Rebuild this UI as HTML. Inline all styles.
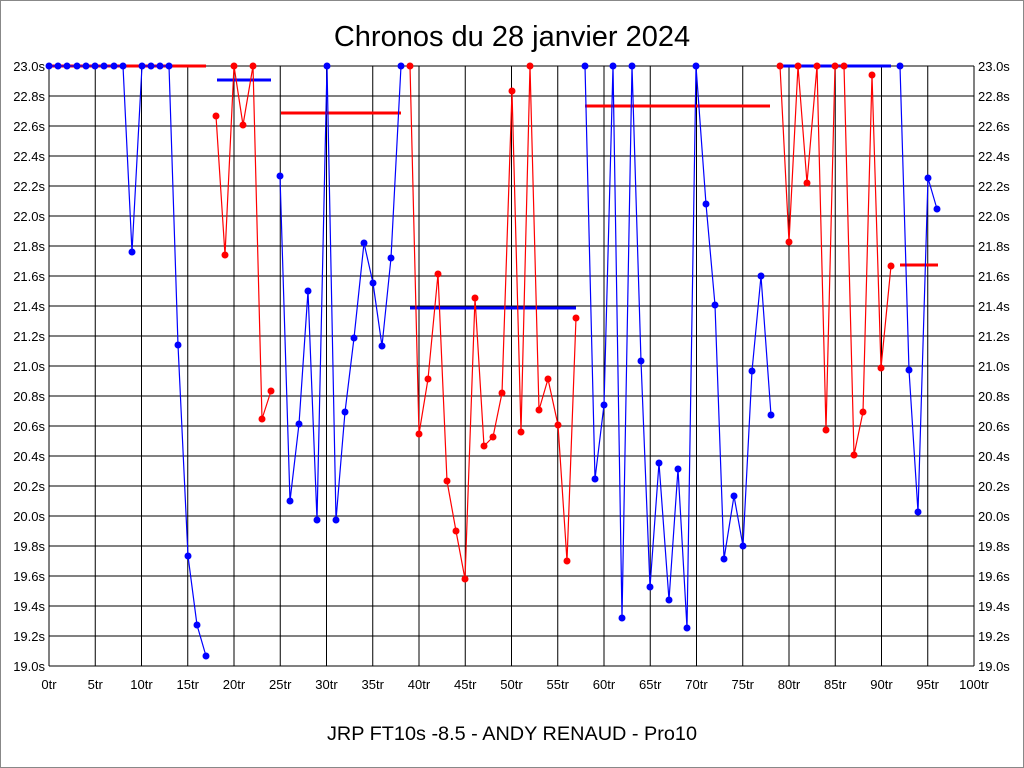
<!DOCTYPE html>
<html><head><meta charset="utf-8"><style>
body{margin:0;background:#fff}
svg{display:block}
text{font-family:"Liberation Sans",sans-serif}
</style></head><body>
<svg width="1024" height="768" viewBox="0 0 1024 768">
<rect x="0.5" y="0.5" width="1023" height="767" fill="#fff" stroke="#888"/>
<text x="512" y="46" font-size="29" text-anchor="middle">Chronos du 28 janvier 2024</text>
<text x="512" y="740" font-size="19" text-anchor="middle" textLength="370" lengthAdjust="spacingAndGlyphs">JRP FT10s -8.5 - ANDY RENAUD - Pro10</text>
<g stroke="#000" stroke-width="1">
<line x1="49" y1="66" x2="974" y2="66"/><line x1="49" y1="96" x2="974" y2="96"/><line x1="49" y1="126" x2="974" y2="126"/><line x1="49" y1="156" x2="974" y2="156"/><line x1="49" y1="186" x2="974" y2="186"/><line x1="49" y1="216" x2="974" y2="216"/><line x1="49" y1="246" x2="974" y2="246"/><line x1="49" y1="276" x2="974" y2="276"/><line x1="49" y1="306" x2="974" y2="306"/><line x1="49" y1="336" x2="974" y2="336"/><line x1="49" y1="366" x2="974" y2="366"/><line x1="49" y1="396" x2="974" y2="396"/><line x1="49" y1="426" x2="974" y2="426"/><line x1="49" y1="456" x2="974" y2="456"/><line x1="49" y1="486" x2="974" y2="486"/><line x1="49" y1="516" x2="974" y2="516"/><line x1="49" y1="546" x2="974" y2="546"/><line x1="49" y1="576" x2="974" y2="576"/><line x1="49" y1="606" x2="974" y2="606"/><line x1="49" y1="636" x2="974" y2="636"/><line x1="49" y1="666" x2="974" y2="666"/>
<line x1="49" y1="66" x2="49" y2="666"/><line x1="95.25" y1="66" x2="95.25" y2="666"/><line x1="141.5" y1="66" x2="141.5" y2="666"/><line x1="187.75" y1="66" x2="187.75" y2="666"/><line x1="234" y1="66" x2="234" y2="666"/><line x1="280.25" y1="66" x2="280.25" y2="666"/><line x1="326.5" y1="66" x2="326.5" y2="666"/><line x1="372.75" y1="66" x2="372.75" y2="666"/><line x1="419" y1="66" x2="419" y2="666"/><line x1="465.25" y1="66" x2="465.25" y2="666"/><line x1="511.5" y1="66" x2="511.5" y2="666"/><line x1="557.75" y1="66" x2="557.75" y2="666"/><line x1="604" y1="66" x2="604" y2="666"/><line x1="650.25" y1="66" x2="650.25" y2="666"/><line x1="696.5" y1="66" x2="696.5" y2="666"/><line x1="742.75" y1="66" x2="742.75" y2="666"/><line x1="789" y1="66" x2="789" y2="666"/><line x1="835.25" y1="66" x2="835.25" y2="666"/><line x1="881.5" y1="66" x2="881.5" y2="666"/><line x1="927.75" y1="66" x2="927.75" y2="666"/><line x1="974" y1="66" x2="974" y2="666"/>
</g>
<g font-size="13" text-anchor="end">
<text x="45" y="71">23.0s</text><text x="45" y="101">22.8s</text><text x="45" y="131">22.6s</text><text x="45" y="161">22.4s</text><text x="45" y="191">22.2s</text><text x="45" y="221">22.0s</text><text x="45" y="251">21.8s</text><text x="45" y="281">21.6s</text><text x="45" y="311">21.4s</text><text x="45" y="341">21.2s</text><text x="45" y="371">21.0s</text><text x="45" y="401">20.8s</text><text x="45" y="431">20.6s</text><text x="45" y="461">20.4s</text><text x="45" y="491">20.2s</text><text x="45" y="521">20.0s</text><text x="45" y="551">19.8s</text><text x="45" y="581">19.6s</text><text x="45" y="611">19.4s</text><text x="45" y="641">19.2s</text><text x="45" y="671">19.0s</text>
</g>
<g font-size="13">
<text x="978" y="71">23.0s</text><text x="978" y="101">22.8s</text><text x="978" y="131">22.6s</text><text x="978" y="161">22.4s</text><text x="978" y="191">22.2s</text><text x="978" y="221">22.0s</text><text x="978" y="251">21.8s</text><text x="978" y="281">21.6s</text><text x="978" y="311">21.4s</text><text x="978" y="341">21.2s</text><text x="978" y="371">21.0s</text><text x="978" y="401">20.8s</text><text x="978" y="431">20.6s</text><text x="978" y="461">20.4s</text><text x="978" y="491">20.2s</text><text x="978" y="521">20.0s</text><text x="978" y="551">19.8s</text><text x="978" y="581">19.6s</text><text x="978" y="611">19.4s</text><text x="978" y="641">19.2s</text><text x="978" y="671">19.0s</text>
</g>
<g font-size="13" text-anchor="middle">
<text x="49" y="689">0tr</text><text x="95.25" y="689">5tr</text><text x="141.5" y="689">10tr</text><text x="187.75" y="689">15tr</text><text x="234" y="689">20tr</text><text x="280.25" y="689">25tr</text><text x="326.5" y="689">30tr</text><text x="372.75" y="689">35tr</text><text x="419" y="689">40tr</text><text x="465.25" y="689">45tr</text><text x="511.5" y="689">50tr</text><text x="557.75" y="689">55tr</text><text x="604" y="689">60tr</text><text x="650.25" y="689">65tr</text><text x="696.5" y="689">70tr</text><text x="742.75" y="689">75tr</text><text x="789" y="689">80tr</text><text x="835.25" y="689">85tr</text><text x="881.5" y="689">90tr</text><text x="927.75" y="689">95tr</text><text x="974" y="689">100tr</text>
</g>
<g stroke-width="3">
<line x1="49" y1="66" x2="206" y2="66" stroke="#f00"/>
<line x1="217" y1="80" x2="271" y2="80" stroke="#00f"/>
<line x1="281" y1="113" x2="401" y2="113" stroke="#f00"/>
<line x1="410" y1="308" x2="576" y2="308" stroke="#00f"/>
<line x1="585" y1="106" x2="770" y2="106" stroke="#f00"/>
<line x1="780" y1="66" x2="891" y2="66" stroke="#00f"/>
<line x1="900" y1="265" x2="938" y2="265" stroke="#f00"/>
</g>
<g fill="none" stroke-width="1.2">
<polyline stroke="#00f" points="49,66 58,66 67,66 77,66 86,66 95,66 104,66 114,66 123,66 132,252 142,66 151,66 160,66 169,66 178,345 188,556 197,625 206,656"/>
<polyline stroke="#f00" points="216,116 225,255 234,66 243,125 253,66 262,419 271,391"/>
<polyline stroke="#00f" points="280,176 290,501 299,424 308,291 317,520 327,66 336,520 345,412 354,338 364,243 373,283 382,346 391,258 401,66"/>
<polyline stroke="#f00" points="410,66 419,434 428,379 438,274 447,481 456,531 465,579 475,298 484,446 493,437 502,393 512,91 521,432 530,66 539,410 548,379 558,425 567,561 576,318"/>
<polyline stroke="#00f" points="585,66 595,479 604,405 613,66 622,618 632,66 641,361 650,587 659,463 669,600 678,469 687,628 696,66 706,204 715,305 724,559 734,496 743,546 752,371 761,276 771,415"/>
<polyline stroke="#f00" points="780,66 789,242 798,66 807,183 817,66 826,430 835,66 844,66 854,455 863,412 872,75 881,368 891,266"/>
<polyline stroke="#00f" points="900,66 909,370 918,512 928,178 937,209"/>
</g>
<g fill="#00f">
<circle cx="49" cy="66" r="3.5"/><circle cx="58" cy="66" r="3.5"/><circle cx="67" cy="66" r="3.5"/><circle cx="77" cy="66" r="3.5"/><circle cx="86" cy="66" r="3.5"/><circle cx="95" cy="66" r="3.5"/><circle cx="104" cy="66" r="3.5"/><circle cx="114" cy="66" r="3.5"/><circle cx="123" cy="66" r="3.5"/><circle cx="132" cy="252" r="3.5"/><circle cx="142" cy="66" r="3.5"/><circle cx="151" cy="66" r="3.5"/><circle cx="160" cy="66" r="3.5"/><circle cx="169" cy="66" r="3.5"/><circle cx="178" cy="345" r="3.5"/><circle cx="188" cy="556" r="3.5"/><circle cx="197" cy="625" r="3.5"/><circle cx="206" cy="656" r="3.5"/>
<circle cx="280" cy="176" r="3.5"/><circle cx="290" cy="501" r="3.5"/><circle cx="299" cy="424" r="3.5"/><circle cx="308" cy="291" r="3.5"/><circle cx="317" cy="520" r="3.5"/><circle cx="327" cy="66" r="3.5"/><circle cx="336" cy="520" r="3.5"/><circle cx="345" cy="412" r="3.5"/><circle cx="354" cy="338" r="3.5"/><circle cx="364" cy="243" r="3.5"/><circle cx="373" cy="283" r="3.5"/><circle cx="382" cy="346" r="3.5"/><circle cx="391" cy="258" r="3.5"/><circle cx="401" cy="66" r="3.5"/>
<circle cx="585" cy="66" r="3.5"/><circle cx="595" cy="479" r="3.5"/><circle cx="604" cy="405" r="3.5"/><circle cx="613" cy="66" r="3.5"/><circle cx="622" cy="618" r="3.5"/><circle cx="632" cy="66" r="3.5"/><circle cx="641" cy="361" r="3.5"/><circle cx="650" cy="587" r="3.5"/><circle cx="659" cy="463" r="3.5"/><circle cx="669" cy="600" r="3.5"/><circle cx="678" cy="469" r="3.5"/><circle cx="687" cy="628" r="3.5"/><circle cx="696" cy="66" r="3.5"/><circle cx="706" cy="204" r="3.5"/><circle cx="715" cy="305" r="3.5"/><circle cx="724" cy="559" r="3.5"/><circle cx="734" cy="496" r="3.5"/><circle cx="743" cy="546" r="3.5"/><circle cx="752" cy="371" r="3.5"/><circle cx="761" cy="276" r="3.5"/><circle cx="771" cy="415" r="3.5"/>
<circle cx="900" cy="66" r="3.5"/><circle cx="909" cy="370" r="3.5"/><circle cx="918" cy="512" r="3.5"/><circle cx="928" cy="178" r="3.5"/><circle cx="937" cy="209" r="3.5"/>
</g>
<g fill="#f00">
<circle cx="216" cy="116" r="3.5"/><circle cx="225" cy="255" r="3.5"/><circle cx="234" cy="66" r="3.5"/><circle cx="243" cy="125" r="3.5"/><circle cx="253" cy="66" r="3.5"/><circle cx="262" cy="419" r="3.5"/><circle cx="271" cy="391" r="3.5"/>
<circle cx="410" cy="66" r="3.5"/><circle cx="419" cy="434" r="3.5"/><circle cx="428" cy="379" r="3.5"/><circle cx="438" cy="274" r="3.5"/><circle cx="447" cy="481" r="3.5"/><circle cx="456" cy="531" r="3.5"/><circle cx="465" cy="579" r="3.5"/><circle cx="475" cy="298" r="3.5"/><circle cx="484" cy="446" r="3.5"/><circle cx="493" cy="437" r="3.5"/><circle cx="502" cy="393" r="3.5"/><circle cx="512" cy="91" r="3.5"/><circle cx="521" cy="432" r="3.5"/><circle cx="530" cy="66" r="3.5"/><circle cx="539" cy="410" r="3.5"/><circle cx="548" cy="379" r="3.5"/><circle cx="558" cy="425" r="3.5"/><circle cx="567" cy="561" r="3.5"/><circle cx="576" cy="318" r="3.5"/>
<circle cx="780" cy="66" r="3.5"/><circle cx="789" cy="242" r="3.5"/><circle cx="798" cy="66" r="3.5"/><circle cx="807" cy="183" r="3.5"/><circle cx="817" cy="66" r="3.5"/><circle cx="826" cy="430" r="3.5"/><circle cx="835" cy="66" r="3.5"/><circle cx="844" cy="66" r="3.5"/><circle cx="854" cy="455" r="3.5"/><circle cx="863" cy="412" r="3.5"/><circle cx="872" cy="75" r="3.5"/><circle cx="881" cy="368" r="3.5"/><circle cx="891" cy="266" r="3.5"/>
</g>
</svg>
</body></html>
